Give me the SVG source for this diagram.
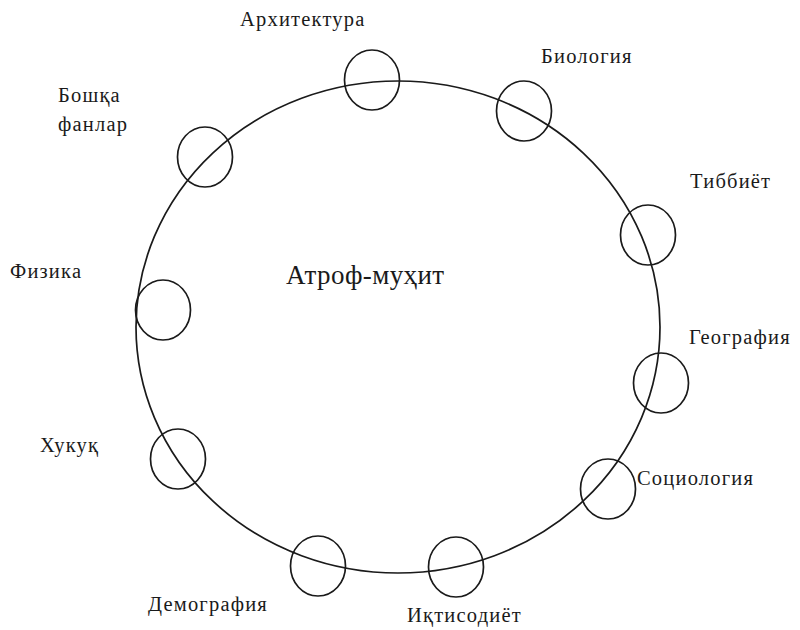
<svg xmlns="http://www.w3.org/2000/svg" width="800" height="630" viewBox="0 0 800 630">
<style>
.c{fill:none;stroke:#1a1a1a;stroke-width:1.7}
.t{font-family:"Liberation Serif","Times New Roman",serif;font-size:20.5px;fill:#1a1a1a;letter-spacing:1.2px}
.m{font-family:"Liberation Serif","Times New Roman",serif;font-size:27px;fill:#1a1a1a;letter-spacing:0.4px}
</style>
<rect width="800" height="630" fill="#ffffff"/>
<g id="connectors">
<ellipse class="c" cx="398" cy="327" rx="262" ry="246"/>
</g>
<g id="center"><text class="m" x="286" y="284">Атроф-муҳит</text></g>
<g id="arxitektura"><ellipse class="c" cx="372" cy="80" rx="27.5" ry="30"/><text class="t" x="240" y="26">Архитектура</text></g>
<g id="biologiya"><ellipse class="c" cx="524" cy="111" rx="27.5" ry="30"/><text class="t" x="541" y="63">Биология</text></g>
<g id="tibbiyot"><ellipse class="c" cx="648" cy="235" rx="27.5" ry="30"/><text class="t" x="690" y="188">Тиббиёт</text></g>
<g id="geografiya"><ellipse class="c" cx="661" cy="383" rx="27.5" ry="30"/><text class="t" x="689" y="344">География</text></g>
<g id="sotsiologiya"><ellipse class="c" cx="608" cy="489" rx="27.5" ry="30"/><text class="t" x="637" y="485">Социология</text></g>
<g id="iqtisodiyot"><ellipse class="c" cx="456" cy="567" rx="27.5" ry="30"/><text class="t" x="407" y="622">Иқтисодиёт</text></g>
<g id="demografiya"><ellipse class="c" cx="318" cy="566" rx="27.5" ry="30"/><text class="t" x="148" y="611">Демография</text></g>
<g id="huquq"><ellipse class="c" cx="178" cy="459" rx="27.5" ry="30"/><text class="t" x="40" y="452">Хукуқ</text></g>
<g id="fizika"><ellipse class="c" cx="163" cy="310" rx="27.5" ry="30"/><text class="t" x="10" y="278">Физика</text></g>
<g id="boshqa"><ellipse class="c" cx="205" cy="157" rx="27.5" ry="30"/><text class="t" x="58" y="102">Бошқа</text><text class="t" x="58" y="131">фанлар</text></g>
</svg>
